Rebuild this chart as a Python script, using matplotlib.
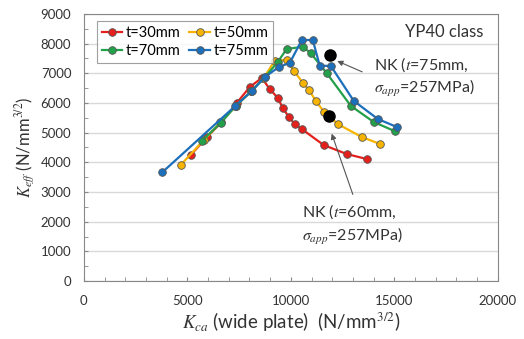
import numpy as np
import matplotlib.pyplot as plt
from matplotlib.ticker import MultipleLocator

plt.rcParams['font.family'] = ['Lato', 'DejaVu Sans']
plt.rcParams['mathtext.fontset'] = 'stix'

# K_ca (wide plate) vs K_eff
kca_30 = [5170, 5950, 6650, 7390, 8020, 8600, 8980, 9370, 9610, 9900, 10190, 10530, 11590, 12700, 13670]
keff_30 = [4250, 4850, 5350, 6000, 6540, 6840, 6470, 6170, 5830, 5530, 5290, 5120, 4580, 4280, 4110]

kca_50 = [4680, 5800, 6600, 7350, 8100, 8700, 9220, 9800, 10150, 10580, 10870, 11200, 11600, 12270, 13430, 14300]
keff_50 = [3910, 4750, 5350, 5900, 6400, 6850, 7420, 7450, 7080, 6680, 6440, 6080, 5700, 5290, 4850, 4620]

kca_70 = [5700, 6620, 7340, 8100, 8750, 9370, 9800, 10580, 10960, 11740, 12900, 14000, 15020]
keff_70 = [4720, 5330, 5900, 6400, 6870, 7380, 7820, 7890, 7680, 7000, 5900, 5360, 5050]

kca_75 = [3800, 7320, 8110, 8740, 9420, 9950, 10530, 11060, 11400, 11930, 13040, 14200, 15120]
keff_75 = [3670, 5900, 6400, 6870, 7210, 7350, 8120, 8120, 7250, 7250, 6070, 5460, 5190]

# NK estimates
nk_kca = [11880, 11830]
nk_keff = [7620, 5560]

series = [
    ('t=30mm', kca_30, keff_30, '#e4201c'),
    ('t=50mm', kca_50, keff_50, '#f6b400'),
    ('t=70mm', kca_70, keff_70, '#22a04a'),
    ('t=75mm', kca_75, keff_75, '#1c6fbb'),
]

fig = plt.figure(figsize=(5.24, 3.39), dpi=100)
ax = fig.add_axes([0.160, 0.171, 0.790, 0.788])

handles = []
for lab, x, y, c in series:
    h, = ax.plot(x, y, '-o', color=c, lw=1.6, ms=5.5, mfc=c, mec='#555555',
                 mew=0.6, label=lab, zorder=3)
    handles.append(h)

ax.plot(nk_kca, nk_keff, 'o', color='black', ms=8, zorder=4)

ax.set_xlim(0, 20000)
ax.set_ylim(0, 9000)
ax.xaxis.set_major_locator(MultipleLocator(5000))
ax.xaxis.set_minor_locator(MultipleLocator(1000))
ax.yaxis.set_major_locator(MultipleLocator(1000))
ax.yaxis.set_minor_locator(MultipleLocator(500))
ax.tick_params(which='both', direction='in', length=3, color='#888888',
               labelsize=9.5, labelcolor='#333333')
ax.tick_params(axis='x', pad=10)
ax.tick_params(axis='y', pad=9)
ax.grid(axis='y', which='major', color='#d9d9d9', lw=1.0, zorder=0)
ax.set_axisbelow(True)
for s in ax.spines.values():
    s.set_color('#888888')

ax.set_xlabel(r'$K_{ca}$ (wide plate)  (N/mm$^{3/2}$)', fontsize=13.5,
              color='#333333', labelpad=3)
ax.set_ylabel(r'$K_{eff}$ (N/mm$^{3/2}$)', fontsize=12, color='#333333', labelpad=3)

leg = ax.legend([handles[0], handles[2], handles[1], handles[3]],
                ['t=30mm', 't=70mm', 't=50mm', 't=75mm'],
                ncol=2, loc='upper left', bbox_to_anchor=(0.031, 0.974),
                fontsize=10.5, frameon=True, fancybox=False, edgecolor='#888888',
                handlelength=1.4, handletextpad=0.25, columnspacing=0.6,
                labelspacing=0.3, borderpad=0.35, borderaxespad=0)
leg.get_frame().set_linewidth(0.8)

ax.text(0.964, 0.933, 'YP40 class', transform=ax.transAxes, ha='right',
        va='center', fontsize=12, color='#333333')

ax.annotate('', xy=(12120, 7450), xytext=(13570, 7010),
            arrowprops=dict(arrowstyle='-|>', color='#555555', lw=0.8,
                            mutation_scale=8), zorder=5)
ax.text(14000, 6875, 'NK ($\\it{t}$=75mm,\n$\\sigma_{app}$=257MPa)', fontsize=11.5,
        color='#333333', va='center', linespacing=1.3)

ax.annotate('', xy=(11930, 5055), xytext=(13040, 2830),
            arrowprops=dict(arrowstyle='-|>', color='#555555', lw=0.8,
                            mutation_scale=8), zorder=5)
ax.text(10530, 1900, 'NK ($\\it{t}$=60mm,\n$\\sigma_{app}$=257MPa)', fontsize=11.5,
        color='#333333', va='center', linespacing=1.3)

fig.savefig('out.png', dpi=100)
